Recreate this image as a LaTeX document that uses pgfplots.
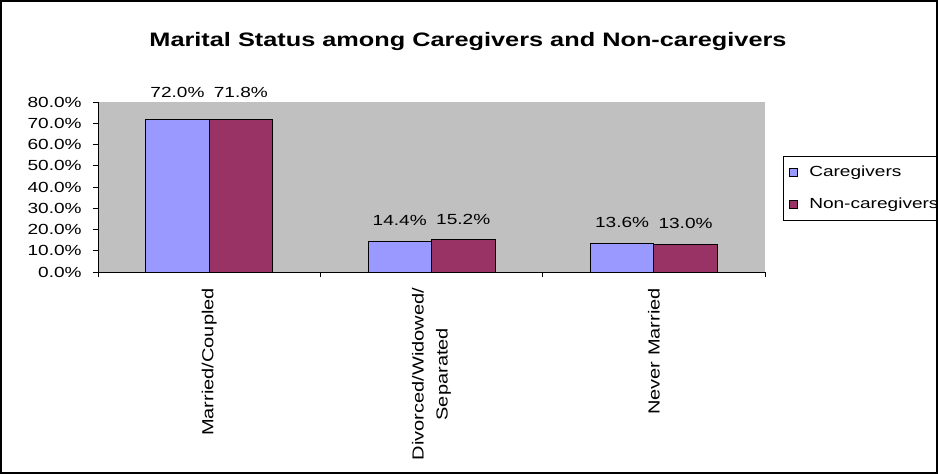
\documentclass[border=0pt]{standalone}
\usepackage{pgfplots}
\pgfplotsset{compat=1.18}
\usepackage{fontspec}
\setmainfont{Liberation Sans}[FakeStretch=1.3]
\newfontfamily\vfont{Liberation Sans}[FakeStretch=1.25]
\definecolor{cgblue}{HTML}{9999FF}
\definecolor{cgred}{HTML}{993366}
\definecolor{bggray}{HTML}{C0C0C0}
\newcommand{\lblfont}{\fontsize{11}{17}\selectfont}
\newcommand{\vlblfont}{\vfont\fontsize{12}{18}\selectfont}
\begin{document}
\begin{tikzpicture}
\useasboundingbox (0pt,0pt) rectangle (703.5pt,-355.5pt);
\begin{scope}
\clip (0pt,0pt) rectangle (703.5pt,-355.5pt);
\node[font=\bfseries\fontsize{14.6}{17}\selectfont] at (351pt,-31pt) {Marital Status among Caregivers and Non-caregivers};
\begin{axis}[
  at={(73.5pt,-204pt)}, anchor=south west,
  scale only axis, width=500.25pt, height=127.5pt,
  ybar=0pt, bar width=47.6pt,
  ymin=0, ymax=80, xmin=-0.5, xmax=2.5,
  axis x line*=bottom, axis y line*=left,
  axis line style={-, black, line width=0.75pt},
  axis background/.style={fill=bggray},
  ytick={0,10,...,80},
  yticklabel={\pgfmathprintnumber[fixed,fixed zerofill,precision=1]{\tick}\%},
  /pgf/number format/assume math mode=true,
  tick align=outside, major tick length=3.75pt,
  tick style={black, line width=0.6pt},
  xtick={-0.5,0.5,1.5,2.5}, xticklabels={},
  extra x ticks={0,1,2},
  extra x tick labels={Married/Coupled, {Divorced/Widowed/\\Separated}, Never Married},
  extra x tick style={major tick length=0pt},
  yticklabel style={font=\lblfont, xshift=-5pt},
  xticklabel style={font=\vlblfont, rotate=90, anchor=east, align=center, yshift=0pt, xshift=-8.5pt},
  visualization depends on={y \as \rawy},
  nodes near coords={\pgfmathprintnumber[fixed,fixed zerofill,precision=1]{\pgfplotspointmeta}\%},
  nodes near coords style={font=\lblfont, anchor=south, black, yshift={8pt+4.5pt*(\rawy>50)}},
  legend style={at={(rel axis cs:1,1)}, anchor=north west, xshift=13.5pt, yshift=-40.5pt,
    draw=black, fill=white, font=\lblfont, row sep=10.25pt, inner xsep=4pt, inner ysep=5.5pt,
    /tikz/every odd column/.style={column sep=7pt}},
  legend cell align=left,
]
\addplot[fill=cgblue, draw=black, line width=0.6pt,
  legend image code/.code={\draw[fill=cgblue, draw=black, line width=0.5pt] (0pt,-3pt) rectangle (6pt,3pt);}]
  coordinates {(0,72.0) (1,14.4) (2,13.6)};
\addlegendentry{Caregivers}
\addplot[fill=cgred, draw=black, line width=0.6pt,
  legend image code/.code={\draw[fill=cgred, draw=black, line width=0.5pt] (0pt,-3pt) rectangle (6pt,3pt);}]
  coordinates {(0,71.8) (1,15.2) (2,13.0)};
\addlegendentry{Non-caregivers}
\end{axis}
\end{scope}
\draw[line width=1.2pt] (0.6pt,-0.6pt) rectangle (702.9pt,-354.9pt);
\end{tikzpicture}
\end{document}
